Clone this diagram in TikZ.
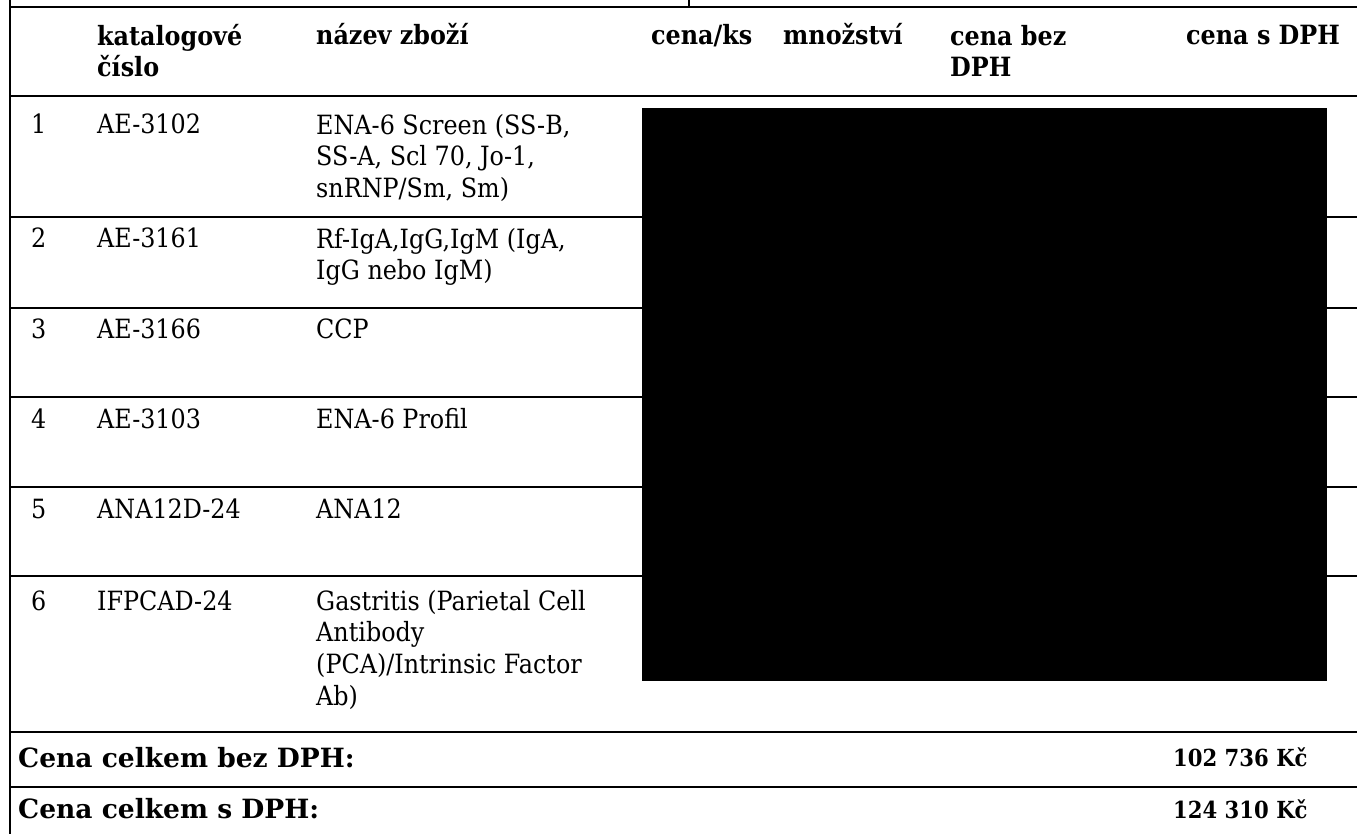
\documentclass[tikz,border=0pt]{standalone}
\usepackage{fontspec}
\setmainfont{DejaVu Serif}[FakeStretch=0.9]
\newfontfamily\widefont{DejaVu Serif}
\newcommand\rowtop{\rule{0pt}{24pt}}
\tikzset{cell/.style={anchor=base west,inner sep=0pt,align=left,
   font=\fontsize{26.5}{31.7}\selectfont},
 lines/.style={cell,anchor=north west},
 headcell/.style={cell,font=\fontsize{26.5}{31.7}\selectfont\bfseries},
 headlines/.style={headcell,anchor=north west},
 sumlabel/.style={cell,font=\fontsize{26.5}{31.7}\selectfont\widefont\bfseries},
 sumcell/.style={cell,font=\fontsize{23.5}{28}\selectfont\bfseries},
 rule/.style={line width=1.6pt},
 }

\begin{document}
\begin{tikzpicture}[x=1pt,y=-1pt]
        \useasboundingbox (0,0) rectangle (1357,834);
        % frame and row rules
        \draw[rule] (10,0) -- (10,834);
        \draw[rule] (689,0) -- (689,7);
        \draw[rule] (10,7) -- (1357,7);
        \draw[rule] (10,96) -- (1357,96);
        \draw[rule] (10,217) -- (1357,217);
        \draw[rule] (10,308) -- (1357,308);
        \draw[rule] (10,397) -- (1357,397);
        \draw[rule] (10,487) -- (1357,487);
        \draw[rule] (10,576) -- (1357,576);
        \draw[rule] (10,732) -- (1357,732);
        \draw[rule] (10,787) -- (1357,787);
        % header (top of a lines node = first baseline - 24)
        \node[headlines] (hcat) at (97,21) {\rowtop katalogové\\číslo};
        \node[headcell] (hname) at (316,45) {název zboží};
        \node[headcell] (hprice) at (651,45) {cena/ks};
        \node[headcell] (hqty) at (783,45) {množství};
        \node[headlines] (hnet) at (950,21) {\rowtop cena bez\\DPH};
        \node[headcell] (hgross) at (1186,45) {cena s DPH};
        % items
        \node[cell] (n1) at (31,134) {1};
        \node[cell] (c1) at (97,134) {AE-3102};
        \node[lines] (d1) at (316,110) {\rowtop ENA-6 Screen (SS-B,\\SS-A, Scl 70, Jo-1,\\snRNP/Sm, Sm)};
        \node[cell] (n2) at (31,248) {2};
        \node[cell] (c2) at (97,248) {AE-3161};
        \node[lines] (d2) at (316,224) {\rowtop Rf-IgA,IgG,IgM (IgA,\\IgG nebo IgM)};
        \node[cell] (n3) at (31,338) {3};
        \node[cell] (c3) at (97,338) {AE-3166};
        \node[cell] (d3) at (316,338) {CCP};
        \node[cell] (n4) at (31,428) {4};
        \node[cell] (c4) at (97,428) {AE-3103};
        \node[cell] (d4) at (316,428) {ENA-6 Profil};
        \node[cell] (n5) at (31,518) {5};
        \node[cell] (c5) at (97,518) {ANA12D-24};
        \node[cell] (d5) at (316,518) {ANA12};
        \node[cell] (n6) at (31,610) {6};
        \node[cell] (c6) at (97,610) {IFPCAD-24};
        \node[lines] (d6) at (316,586) {\rowtop Gastritis (Parietal Cell\\Antibody\\(PCA)/Intrinsic Factor\\Ab)};
        % redacted block
        \fill (642,108) rectangle (1327,681);
        % totals
        \node[sumlabel] (tnet) at (18,767) {Cena celkem bez DPH:};
        \node[sumcell] (vnet) at (1173,766) {102 736 Kč};
        \node[sumlabel] (tgross) at (18,818) {Cena celkem s DPH:};
        \node[sumcell] (vgross) at (1173,818) {124 310 Kč};
    \end{tikzpicture}
\end{document}
